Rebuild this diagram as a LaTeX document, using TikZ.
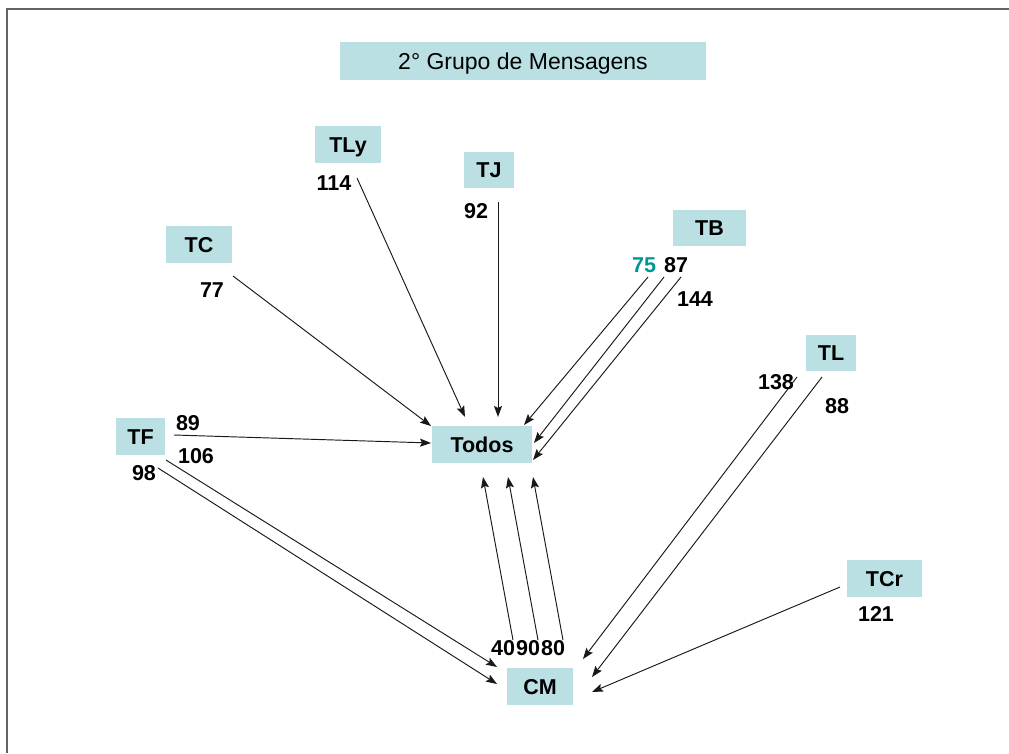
\documentclass[tikz,border=0pt]{standalone}
\usepackage{fontspec}
\setmainfont{Liberation Sans}
\usetikzlibrary{arrows.meta}
\definecolor{boxfill}{RGB}{186,224,227}
\definecolor{framegray}{RGB}{100,100,100}
\definecolor{tealnum}{RGB}{0,150,150}
\begin{document}
\begin{tikzpicture}[x=1pt,y=-1pt,
  box/.style={fill=boxfill, inner sep=0pt,
    font=\fontsize{21.5}{25}\selectfont\bfseries,
    text height=15.4pt, text depth=0pt},
  num/.style={inner sep=0pt, font=\fontsize{21.5}{25}\selectfont\bfseries},
  link/.style={draw=black!90, line width=0.95pt,
    -{Stealth[length=11pt,width=8pt,inset=2pt]}}]
\useasboundingbox (0,0) rectangle (1009,753);

% slide frame
\draw[framegray, line width=2pt] (7,753) -- (7,9) -- (1009,9);

% title
\node[fill=boxfill, inner sep=0pt, minimum width=366pt, minimum height=38pt,
      font=\fontsize{23}{26}\selectfont, text height=16.5pt, text depth=0pt]
  (title) at (523,61) {2° Grupo de Mensagens};

% boxes
\node[box, minimum width=66pt, minimum height=37pt] (tly)   at (348,144.5) {TLy};
\node[box, minimum width=50pt, minimum height=36pt] (tj)    at (489,170)   {TJ};
\node[box, minimum width=66pt, minimum height=37pt] (tc)    at (199,244.5) {TC};
\node[box, minimum width=73pt, minimum height=36pt] (tb)    at (709.5,228) {TB};
\node[box, minimum width=50pt, minimum height=36pt] (tl)    at (831,353)   {TL};
\node[box, minimum width=49pt, minimum height=37pt] (tf)    at (140.5,436.5) {TF};
\node[box, minimum width=100pt, minimum height=37pt] (todos) at (482,444.5) {Todos};
\node[box, minimum width=66pt, minimum height=37pt] (cm)    at (540,686.5) {CM};
\node[box, minimum width=75pt, minimum height=37pt] (tcr)   at (884.5,578.5) {TCr};

% counts
\node[num] (n114) at (334,183) {114};
\node[num] (n92)  at (476,211) {92};
\node[num] (n77)  at (212,290) {77};
\node[num, text=tealnum] (n75) at (644,265) {75};
\node[num] (n87)  at (676,265) {87};
\node[num] (n144) at (695,299) {144};
\node[num] (n138) at (776,382) {138};
\node[num] (n88)  at (837,406) {88};
\node[num] (n121) at (876,614) {121};
\node[num] (n89)  at (188,423) {89};
\node[num] (n106) at (196,456) {106};
\node[num] (n98)  at (144,473) {98};
\node[num] (n40)  at (503,648) {40};
\node[num] (n90)  at (528,648) {90};
\node[num] (n80)  at (553,648) {80};

% connector end points
\coordinate (tly-s) at (357,178);  \coordinate (tly-e) at (465,417);
\coordinate (tj-s)  at (498,202);  \coordinate (tj-e)  at (498,417);
\coordinate (tc-s)  at (233,276);  \coordinate (tc-e)  at (431,426);
\coordinate (tb1-s) at (648,277);  \coordinate (tb1-e) at (524,425);
\coordinate (tb2-s) at (664,277);  \coordinate (tb2-e) at (534,443);
\coordinate (tb3-s) at (681,277);  \coordinate (tb3-e) at (533,460);
\coordinate (tf0-s) at (174,435);  \coordinate (tf0-e) at (431,443);
\coordinate (tf1-s) at (166,460);  \coordinate (tf1-e) at (497,667);
\coordinate (tf2-s) at (158,468);  \coordinate (tf2-e) at (497,684);
\coordinate (cm1-s) at (513,640);  \coordinate (cm1-e) at (483,477);
\coordinate (cm2-s) at (538,640);  \coordinate (cm2-e) at (508,477);
\coordinate (cm3-s) at (563,640);  \coordinate (cm3-e) at (533,477);
\coordinate (tl1-s) at (797,377);  \coordinate (tl1-e) at (583,659);
\coordinate (tl2-s) at (822,377);  \coordinate (tl2-e) at (592,677);
\coordinate (tcr-s) at (840,587);  \coordinate (tcr-e) at (592,692);

% connectors
\draw[link] (tly-s) -- (tly-e);
\draw[link] (tj-s)  -- (tj-e);
\draw[link] (tc-s)  -- (tc-e);
\draw[link] (tb1-s) -- (tb1-e);
\draw[link] (tb2-s) -- (tb2-e);
\draw[link] (tb3-s) -- (tb3-e);
\draw[link] (tf0-s) -- (tf0-e);
\draw[link] (tf1-s) -- (tf1-e);
\draw[link] (tf2-s) -- (tf2-e);
\draw[link] (cm1-s) -- (cm1-e);
\draw[link] (cm2-s) -- (cm2-e);
\draw[link] (cm3-s) -- (cm3-e);
\draw[link] (tl1-s) -- (tl1-e);
\draw[link] (tl2-s) -- (tl2-e);
\draw[link] (tcr-s) -- (tcr-e);
\end{tikzpicture}
\end{document}
